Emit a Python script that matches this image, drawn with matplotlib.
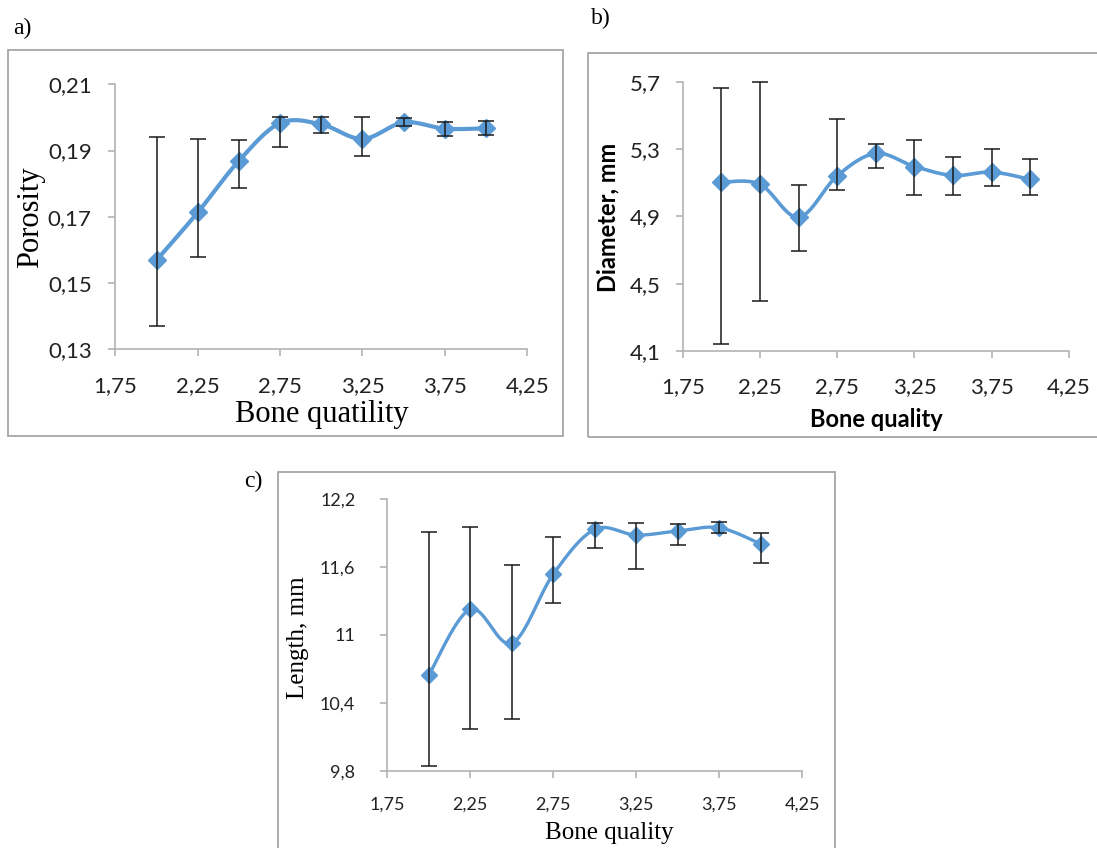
import numpy as np
import matplotlib.pyplot as plt
from matplotlib.patches import Rectangle

W, H = 1097, 848

# data
quality = [2.0, 2.25, 2.5, 2.75, 3.0, 3.25, 3.5, 3.75, 4.0]

porosity = [0.1569, 0.1713, 0.1869, 0.1983, 0.1979, 0.1935, 0.1985, 0.1966, 0.1967]
porosity_hi = [0.1941, 0.1936, 0.1932, 0.2000, 0.2000, 0.2000, 0.1998, 0.1986, 0.1989]
porosity_lo = [0.1369, 0.1579, 0.1788, 0.1910, 0.1952, 0.1883, 0.1975, 0.1943, 0.1946]

diameter = [5.103, 5.091, 4.895, 5.141, 5.274, 5.196, 5.143, 5.163, 5.119]
diameter_hi = [5.664, 5.700, 5.085, 5.478, 5.329, 5.355, 5.252, 5.303, 5.242]
diameter_lo = [4.144, 4.399, 4.693, 5.054, 5.188, 5.024, 5.024, 5.079, 5.026]

length = [10.644, 11.224, 10.924, 11.535, 11.929, 11.879, 11.915, 11.944, 11.800]
length_hi = [11.909, 11.953, 11.615, 11.859, 11.982, 11.988, 11.979, 11.997, 11.894]
length_lo = [9.844, 10.171, 10.259, 11.279, 11.768, 11.582, 11.791, 11.894, 11.635]

x_ticks = [1.75, 2.25, 2.75, 3.25, 3.75, 4.25]
x_labels = ['1,75', '2,25', '2,75', '3,25', '3,75', '4,25']
a_ticks = [0.13, 0.15, 0.17, 0.19, 0.21]
a_labels = ['0,13', '0,15', '0,17', '0,19', '0,21']
b_ticks = [4.1, 4.5, 4.9, 5.3, 5.7]
b_labels = ['4,1', '4,5', '4,9', '5,3', '5,7']
c_ticks = [9.8, 10.4, 11.0, 11.6, 12.2]
c_labels = ['9,8', '10,4', '11', '11,6', '12,2']

BLUE = '#5b9bd5'
AXC = '#b3b3b3'


def px_ax(left, right, top, bottom):
    # pixel box -> figure fraction rect
    return [left / W, 1 - bottom / H, (right - left) / W, (bottom - top) / H]


def smooth(x, y, n=40):
    # excel-like smoothed line (bezier through the points)
    pts = np.column_stack([x, y])
    P = np.vstack([pts[0], pts, pts[-1]])
    t = np.linspace(0, 1, n)[:, None]
    segs = []
    for i in range(1, len(P) - 2):
        p0, p1, p2, p3 = P[i - 1], P[i], P[i + 1], P[i + 2]
        c1 = p1 + (p2 - p0) / 6
        c2 = p2 - (p3 - p1) / 6
        segs.append((1 - t) ** 3 * p1 + 3 * (1 - t) ** 2 * t * c1
                    + 3 * (1 - t) * t ** 2 * c2 + t ** 3 * p2)
    return np.vstack(segs)


def draw(ax, y, hi, lo, ylim, yticks, ylabels, lw, ms, ts, ypad, xpad):
    y = np.array(y)
    curve = smooth(quality, y)
    ax.plot(curve[:, 0], curve[:, 1], color=BLUE, lw=lw, zorder=2, clip_on=False,
            solid_capstyle='round')
    ax.plot(quality, y, ls='none', marker='D', ms=ms, color=BLUE, mec=BLUE, zorder=3,
            clip_on=False)
    err = [y - np.array(lo), np.array(hi) - y]
    ax.errorbar(quality, y, yerr=err, fmt='none', ecolor='#1a1a1a', elinewidth=1.1,
                capsize=6, capthick=1.1, zorder=4, clip_on=False)
    ax.set_xlim(1.75, 4.25)
    ax.set_ylim(*ylim)
    ax.set_xticks(x_ticks)
    ax.set_xticklabels(x_labels, fontfamily='Lato', fontsize=ts, color='#222222')
    ax.set_yticks(yticks)
    ax.set_yticklabels(ylabels, fontfamily='Lato', fontsize=ts, color='#222222')
    for s in ['top', 'right']:
        ax.spines[s].set_visible(False)
    for s in ['left', 'bottom']:
        ax.spines[s].set_color(AXC)
        ax.spines[s].set_linewidth(1.2)
    ax.tick_params(axis='both', direction='out', length=5, width=1.2, color=AXC)
    ax.tick_params(axis='y', pad=ypad)
    ax.tick_params(axis='x', pad=xpad)


fig = plt.figure(figsize=(W / 100, H / 100), dpi=100)

# panel frames
for (l, t, r, b) in [(8.3, 49.7, 563.3, 436), (588.3, 52.7, 1102, 436.7), (277.7, 471.7, 835, 855)]:
    fig.add_artist(Rectangle((l / W, 1 - b / H), (r - l) / W, (b - t) / H,
                             transform=fig.transFigure, fill=False, ec='#a6a6a6', lw=1.3))

ax_a = fig.add_axes(px_ax(115.3, 527.3, 84.3, 349.3))
draw(ax_a, porosity, porosity_hi, porosity_lo, (0.13, 0.21), a_ticks, a_labels,
     3.0, 9.5, 16, 12, 14)
ax_b = fig.add_axes(px_ax(682.7, 1069, 81.7, 351))
draw(ax_b, diameter, diameter_hi, diameter_lo, (4.1, 5.7), b_ticks, b_labels,
     2.6, 9.5, 16, 11, 14)
ax_c = fig.add_axes(px_ax(387.3, 802.3, 498.7, 770.7))
draw(ax_c, length, length_hi, length_lo, (9.8, 12.2), c_ticks, c_labels,
     2.4, 8.0, 13, 18, 14)

serif = 'Liberation Serif'
fig.text(31 / W, 1 - 217 / H, 'Porosity', rotation=90, ha='center', va='center',
         family=serif, fontsize=22)
fig.text(322 / W, 1 - 415 / H, 'Bone quatility', ha='center', va='center',
         family=serif, fontsize=22)
fig.text(608 / W, 1 - 217 / H, 'Diameter, mm', rotation=90, ha='center', va='center',
         family='Lato', fontweight='bold', fontsize=17)
fig.text(876 / W, 1 - 420 / H, 'Bone quality', ha='center', va='center',
         family='Lato', fontweight='bold', fontsize=17)
fig.text(298 / W, 1 - 638 / H, 'Length, mm', rotation=90, ha='center', va='center',
         family=serif, fontsize=18)
fig.text(609 / W, 1 - 833 / H, 'Bone quality', ha='center', va='center',
         family=serif, fontsize=18)

fig.text(22 / W, 1 - 28 / H, 'a)', ha='center', va='center', family=serif, fontsize=17)
fig.text(601 / W, 1 - 18 / H, 'b)', ha='center', va='center', family=serif, fontsize=17)
fig.text(253 / W, 1 - 481 / H, 'c)', ha='center', va='center', family=serif, fontsize=17)

fig.savefig('out.png', dpi=100)
